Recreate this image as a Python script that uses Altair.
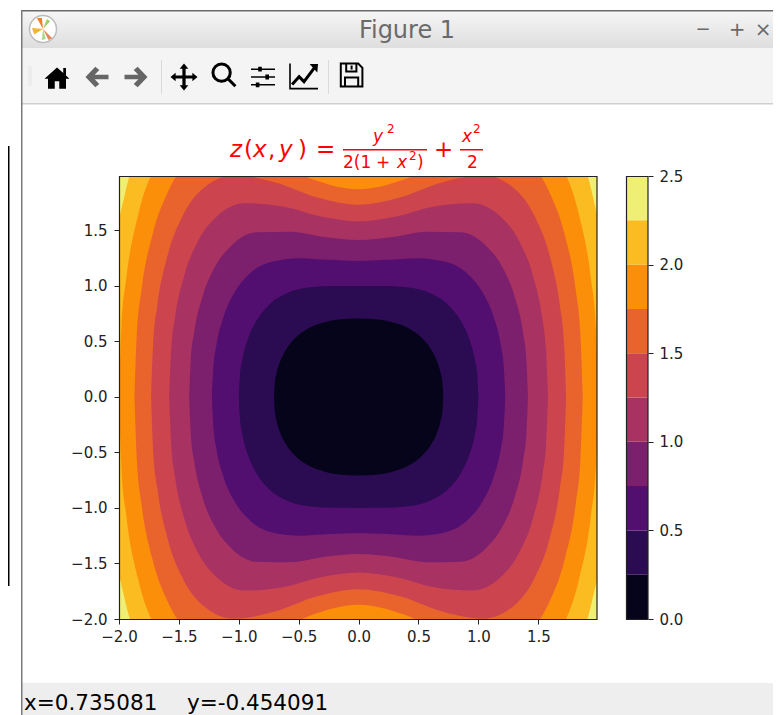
import altair as alt
import pandas as pd

# ---------- values ----------
LEVELS = [0.25, 0.5, 0.75, 1.0, 1.25, 1.5, 1.75, 2.0, 2.25]
BAND_EDGES = [0.0, 0.25, 0.5, 0.75, 1.0, 1.25, 1.5, 1.75, 2.0, 2.25, 2.5]
BAND_COLORS = ["#05041a", "#2b0b52", "#520f70", "#7c206e", "#a83262",
               "#cc444e", "#e9642d", "#fb8f0a", "#fbbc22", "#f0ef75"]

# half outlines of each filled contour (x >= 0, y >= 0)
C025_X = [0, .141, .283, .424, .530, .601, .651, .686, .700, .707]
C025_Y = [.707, .700, .673, .614, .529, .435, .331, .208, .122, 0]
C050_X = [0, .2, .4, .6, .75, .85, .92, .97, .99, 1]
C050_Y = [1, .999, .987, .933, .827, .691, .533, .339, .198, 0]
C075_X = [0, .245, .490, .735, .919, 1.041, 1.127, 1.188, 1.212, 1.225]
C075_Y = [1.225, 1.235, 1.250, 1.216, 1.100, .931, .723, .462, .272, 0]
C100_X = [0, .283, .566, .849, 1.061, 1.202, 1.301, 1.372, 1.400, 1.414]
C100_Y = [1.414, 1.440, 1.489, 1.484, 1.364, 1.165, .910, .584, .343, 0]
C125_X = [0, .316, .632, .949, 1.186, 1.344, 1.455, 1.534, 1.565, 1.581]
C125_Y = [1.581, 1.625, 1.715, 1.744, 1.622, 1.395, 1.094, .704, .414, 0]
C150_X = [0, .346, .693, 1.039, 1.299, 1.472, 1.594, 1.680, 1.715, 1.732]
C150_Y = [1.732, 1.796, 1.931, 1.998, 1.878, 1.624, 1.277, .823, .485, 0]
C175_X = [0, .374, .748, 1.122, 1.403, 1.590, 1.721, 1.815, 1.852, 1.871]
C175_Y = [1.871, 1.957, 2.142, 2.250, 2.132, 1.851, 1.459, .942, .556, 0]
C200_X = [0, .4, .8, 1.2, 1.5, 1.7, 1.84, 1.94, 1.98, 2]
C200_Y = [2, 2.111, 2.347, 2.499, 2.385, 2.078, 1.641, 1.061, .626, 0]
C225_X = [0, .424, .849, 1.273, 1.591, 1.803, 1.952, 2.058, 2.100, 2.121]
C225_Y = [2.121, 2.258, 2.550, 2.747, 2.637, 2.304, 1.823, 1.180, .696, 0]
CONTOURS = [(C025_X, C025_Y), (C050_X, C050_Y), (C075_X, C075_Y),
            (C100_X, C100_Y), (C125_X, C125_Y), (C150_X, C150_Y),
            (C175_X, C175_Y), (C200_X, C200_Y), (C225_X, C225_Y)]

X_DOMAIN = [-2.0, 1.99]
Y_DOMAIN = [-2.0, 1.99]
AXIS_TICKS = [-2.0, -1.5, -1.0, -0.5, 0.0, 0.5, 1.0, 1.5]
CBAR_TICKS = [0.0, 0.5, 1.0, 1.5, 2.0, 2.5]
STATUS = "x=0.735081"
STATUS2 = "y=-0.454091"

# ---------- page layout ----------
L, T = 119, 176
W, H = 478, 443
PAGE_W, PAGE_H = 765, 707
FONT = "DejaVu Sans"
INK = "#222222"
ONE = pd.DataFrame({"a": [0]})


def px(v):
    return v - L


def py(v):
    return v - T


def box(x0, y0, x1, y1, **kw):
    return alt.Chart(ONE).mark_rect(**kw).encode(
        x=alt.value(px(x0)), x2=alt.value(px(x1)),
        y=alt.value(py(y0)), y2=alt.value(py(y1)))


def label(s, x, y, size, color="red", italic=False, align="left", font=FONT):
    return alt.Chart(ONE).mark_text(
        font=font, fontSize=size, color=color, align=align, baseline="alphabetic",
        fontStyle="italic" if italic else "normal",
    ).encode(x=alt.value(px(x)), y=alt.value(py(y)), text=alt.value(s))


def icon(path, x, y, half, color="#000000", filled=True, width=0.0):
    return alt.Chart(ONE).mark_point(
        shape=path, filled=filled, size=(2 * half) ** 2, opacity=1,
        color=color, strokeWidth=width,
    ).encode(x=alt.value(px(x)), y=alt.value(py(y)))


def vgrad(top, bottom):
    return alt.Gradient(gradient="linear", x1=0, x2=0, y1=0, y2=1,
                        stops=[alt.GradientStop(color=top, offset=0),
                               alt.GradientStop(color=bottom, offset=1)])


chrome = [
    box(22, 11, 781, 48, color=vgrad("#f6f6f6", "#dedede")),
    box(22, 48, 781, 103, color="#f4f4f4"),
    box(22, 103, 781, 104.5, color="#cfcfcf"),
    box(22, 683, 781, 715, color="#eeeeee"),
    box(21, 10, 781, 11.5, color="#6a6a6a"),
    box(21, 10, 22.5, 715, color="#7a7a7a"),
    box(8, 146, 9.5, 586, color="#000000"),
    box(161, 60, 162, 94, color="#dadada"),
    box(328, 60, 329, 94, color="#dadada"),
    box(28, 66, 32, 86, color="#ececec"),
    label("Figure 1", 407, 38, 24, color="#6a6a6a", align="center"),
    label("\u2212", 703, 35, 18, color="#6a6a6a", align="center"),
    label("+", 737, 36, 20, color="#6a6a6a", align="center"),
    label("\u00d7", 763, 36, 20, color="#6a6a6a", align="center"),
    label(STATUS, 24, 710, 21.5, color="#000000"),
    label(STATUS2, 187, 710, 21.5, color="#000000"),
]

# window logo
chrome += [
    icon("circle", 43, 29, 13.5, color="#ffffff"),
    icon("circle", 43, 29, 13.5, color="#bcbcbc", filled=False, width=1.5),
    icon("M0,0 L-0.55,-1 L-0.1,-1 Z", 43, 29, 11, color="#f57f20"),
    icon("M0,0 L0.85,0.85 L0.5,1 Z", 43, 29, 11, color="#e8875a"),
    icon("M0,0 L-1,-0.1 L-0.8,0.5 Z", 43, 29, 11, color="#f2b632"),
    icon("M0,0 L0.35,-0.9 L0.65,-0.7 Z", 43, 29, 11, color="#98d36b"),
    icon("M0,0 L-0.1,1 L0.25,0.9 Z", 43, 29, 11, color="#a6d98a"),
]

# toolbar icons
HOME = ("M0,-0.85 L0.5,-0.4 L0.5,-0.8 L0.72,-0.8 L0.72,-0.2 L1,0.05 L0.72,0.05 L0.72,0.85 "
        "L0.18,0.85 L0.18,0.25 L-0.18,0.25 L-0.18,0.85 L-0.72,0.85 L-0.72,0.05 L-1,0.05 Z")
BACK = "M-1,0 L-0.15,-0.9 L0.2,-0.6 L-0.2,-0.2 L1,-0.2 L1,0.2 L-0.2,0.2 L0.2,0.6 L-0.15,0.9 Z"
FWD = "M1,0 L0.15,-0.9 L-0.2,-0.6 L0.2,-0.2 L-1,-0.2 L-1,0.2 L0.2,0.2 L-0.2,0.6 L0.15,0.9 Z"
MOVE = ("M0,-1 L0.32,-0.62 L0.12,-0.62 L0.12,-0.12 L0.62,-0.12 L0.62,-0.32 L1,0 L0.62,0.32 "
        "L0.62,0.12 L0.12,0.12 L0.12,0.62 L0.32,0.62 L0,1 L-0.32,0.62 L-0.12,0.62 L-0.12,0.12 "
        "L-0.62,0.12 L-0.62,0.32 L-1,0 L-0.62,-0.32 L-0.62,-0.12 L-0.12,-0.12 L-0.12,-0.62 "
        "L-0.32,-0.62 Z")
GLASS = ("M-0.2,-1 A0.72,0.72 0 1 0 -0.2,0.44 A0.72,0.72 0 1 0 -0.2,-1 Z "
         "M0.3,0.2 L0.95,0.85")
SLIDERS = ("M-1,-0.65 L1,-0.65 M-1,0 L1,0 M-1,0.65 L1,0.65")
KNOBS = ("M-0.4,-0.85 L-0.1,-0.85 L-0.1,-0.45 L-0.4,-0.45 Z "
         "M0.2,-0.2 L0.5,-0.2 L0.5,0.2 L0.2,0.2 Z "
         "M-0.6,0.45 L-0.3,0.45 L-0.3,0.85 L-0.6,0.85 Z")
AXES_I = "M-1,-0.9 L-1,0.9 L1,0.9"
TREND = "M-0.85,0.6 L-0.35,0.05 L0,0.4 L0.75,-0.6"
TIP = "M0.4,-0.85 L1,-0.85 L0.95,-0.25 Z"
SAVE = ("M-0.85,-0.95 L0.6,-0.95 L0.95,-0.6 L0.95,0.95 L-0.85,0.95 Z "
        "M-0.4,-0.95 L-0.4,-0.3 L0.45,-0.3 L0.45,-0.95 "
        "M-0.5,0.95 L-0.5,0.2 L0.6,0.2 L0.6,0.95 M0.05,-0.8 L0.05,-0.45")

chrome += [
    icon(HOME, 57, 78, 12.5),
    icon(BACK, 97, 77, 11.5, color="#666666"),
    icon(FWD, 136, 77, 11.5, color="#666666"),
    icon(MOVE, 184, 77, 13.5),
    icon(GLASS, 224, 76, 12, filled=False, width=3),
    icon(SLIDERS, 263, 77, 12, filled=False, width=1.5),
    icon(KNOBS, 263, 77, 12),
    icon(AXES_I, 304, 76, 14, filled=False, width=1.6),
    icon(TREND, 304, 76, 14, filled=False, width=3),
    icon(TIP, 304, 76, 14),
    icon(SAVE, 351, 75, 12, filled=False, width=2),
]

# title built from mathtext-like pieces
M = 23
title = [
    label("z", 230, 157, M, italic=True),
    label("(", 244, 157, M),
    label("x", 253, 157, M, italic=True),
    label(",", 268, 157, M),
    label("y", 279, 157, M, italic=True),
    label(")", 298, 157, M),
    label("=", 316, 157, M),
    label("y", 373, 142, 17, italic=True),
    label("2", 387, 133, 12),
    box(343, 149, 427, 150.5, color="red"),
    label("2(1", 343, 168, 17),
    label("+", 376, 168, 17),
    label("x", 397, 168, 17, italic=True),
    label("2", 409, 160, 12),
    label(")", 417, 168, 17),
    label("+", 434, 157, M),
    label("x", 462, 142, 17, italic=True),
    label("2", 473, 133, 12),
    box(460, 149, 483, 150.5, color="red"),
    label("2", 467, 168, 17),
]

# ---------- contour plot ----------
MINUS = "replace(format(datum.value, '.1f'), '-', '\u2212')"
COMMON_AXIS = dict(
    values=AXIS_TICKS, title=None, grid=False, labelExpr=MINUS, labelFont=FONT,
    labelFontSize=15, labelColor=INK, tickColor=INK, tickSize=5,
    tickWidth=1, domain=False, labelOverlap=False, labelFlush=False,
)
x_axis = alt.Axis(**COMMON_AXIS, format=".1f", orient="bottom", labelPadding=5)
x_scale = alt.Scale(domain=X_DOMAIN, nice=False, zero=False)
y_scale = alt.Scale(domain=Y_DOMAIN, nice=False, zero=False)

bg_df = pd.DataFrame({"x0": [X_DOMAIN[0]], "x1": [X_DOMAIN[1]],
                      "y0": [Y_DOMAIN[0]], "y1": [Y_DOMAIN[1]]})
background = alt.Chart(bg_df).mark_rect(color=BAND_COLORS[-1]).encode(
    x=alt.X("x0:Q", scale=x_scale, axis=x_axis),
    x2="x1:Q",
    y=alt.Y("y0:Q", scale=y_scale, axis=alt.Axis(**COMMON_AXIS, format=".1f", labelPadding=7)),
    y2="y1:Q",
)

bands = []
for i in range(len(LEVELS) - 1, -1, -1):
    xs, ys = CONTOURS[i]
    full_x = [-v for v in reversed(xs[1:])] + xs
    full_y = list(reversed(ys[1:])) + ys
    df = pd.DataFrame({"x": full_x, "top": full_y, "bottom": [-v for v in full_y]})
    bands.append(
        alt.Chart(df).mark_area(color=BAND_COLORS[i], clip=True, interpolate="monotone").encode(
            x=alt.X("x:Q", scale=x_scale, axis=x_axis),
            y=alt.Y("top:Q", scale=y_scale, axis=None),
            y2="bottom:Q",
        )
    )

# ---------- colour bar ----------
cb_df = pd.DataFrame({"lo": BAND_EDGES[:-1], "hi": BAND_EDGES[1:],
                      "band": [str(v) for v in BAND_EDGES[:-1]]})
colorbar = alt.Chart(cb_df).mark_rect().encode(
    x=alt.value(px(626.5)),
    x2=alt.value(px(648)),
    y=alt.Y("lo:Q", scale=alt.Scale(domain=[0, 2.5], nice=False, zero=False),
            axis=alt.Axis(orient="right", offset=51, values=CBAR_TICKS, title=None,
                          grid=False, format=".1f", labelFont=FONT, labelFontSize=15,
                          labelColor=INK, tickColor=INK, tickSize=5,
                          domain=False, labelPadding=6, labelOverlap=False, labelFlush=False)),
    y2="hi:Q",
    color=alt.Color("band:N", legend=None,
                    scale=alt.Scale(domain=[str(v) for v in BAND_EDGES[:-1]], range=BAND_COLORS)),
)

frames = [
    box(119.5, 176.5, 597, 619.5, fillOpacity=0, stroke=INK, strokeWidth=1.2),
    box(626.5, 176.5, 648, 619.5, fillOpacity=0, stroke=INK, strokeWidth=1.2),
]

chart = alt.layer(*chrome, *title, background, *bands, colorbar, *frames).resolve_scale(
    y="independent", color="independent"
).resolve_axis(y="independent").properties(
    width=W, height=H,
    autosize=alt.AutoSizeParams(type="none"),
    padding={"left": L - 8, "top": T - 8, "right": PAGE_W - (L - 8) - W, "bottom": PAGE_H - (T - 8) - H},
).configure_view(stroke=None)

chart.save("out.html", embed_options={"renderer": "svg", "actions": False})
